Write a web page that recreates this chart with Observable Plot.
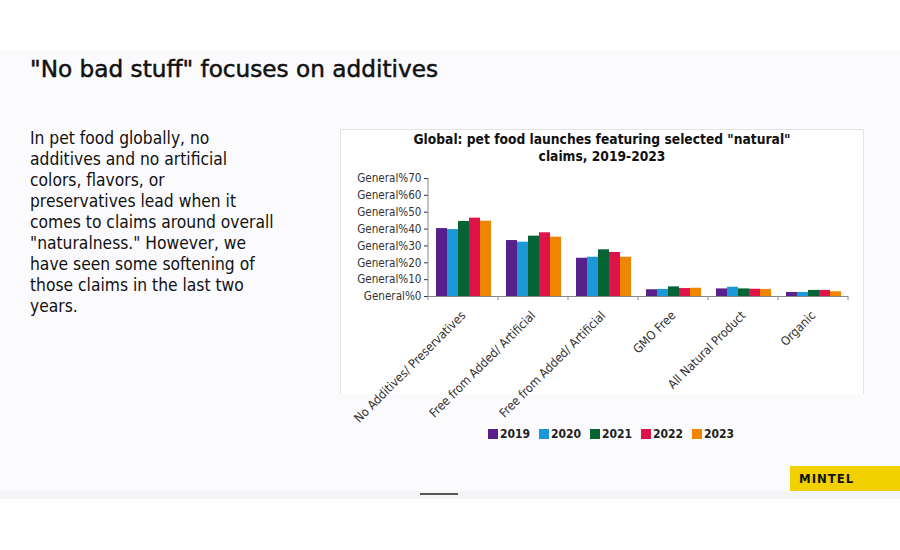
<!DOCTYPE html>
<html><head><meta charset="utf-8">
<script src="https://cdn.jsdelivr.net/npm/d3@7"></script>
<script src="https://cdn.jsdelivr.net/npm/@observablehq/plot@0.6"></script>
<style>
body{margin:0;width:900px;height:550px;background:#fff;position:relative;overflow:hidden;font-family:"DejaVu Sans Condensed","DejaVu Sans",sans-serif;color:#111;}
.abs{position:absolute;}
#slide{left:0;top:50px;width:900px;height:441px;background:#fbfbfe;}
#strip{left:0;top:491px;width:900px;height:8px;background:#f4f5f7;}
#dash{left:420px;top:493px;width:38px;height:2px;background:#555;}
#title{left:30px;top:55px;font-family:"DejaVu Sans",sans-serif;font-size:23.2px;white-space:nowrap;color:#111;-webkit-text-stroke:0.5px #111;}
#body{left:30px;top:128px;font-size:17.3px;line-height:21px;color:#111;}
#panel{left:340px;top:129px;width:522px;height:264px;background:#fff;border:1px solid #e4e4e6;border-bottom:none;}
#ctitle{left:340px;top:131px;width:524px;text-align:center;font-weight:bold;font-size:13.7px;line-height:17px;color:#111;}
#chart{left:340px;top:170px;}
#chart svg{overflow:visible;}
#legend{left:488px;top:427px;display:flex;font-size:12px;font-weight:bold;color:#222;}
#legend .it{display:flex;align-items:center;width:51px;}
#legend .sw{width:10px;height:10px;margin-right:2px;}
#mintel{left:790px;top:466px;width:110px;height:25px;background:#f1d100;}
#mintel span{position:absolute;left:9px;top:5px;font-weight:bold;font-size:13px;letter-spacing:1px;color:#111;}
</style></head><body>
<div id="slide" class="abs"></div>
<div id="strip" class="abs"></div>
<div id="dash" class="abs"></div>
<div id="title" class="abs">"No bad stuff" focuses on additives</div>
<div id="body" class="abs">In pet food globally, no<br>additives and no artificial<br>colors, flavors, or<br>preservatives lead when it<br>comes to claims around overall<br>"naturalness." However, we<br>have seen some softening of<br>those claims in the last two<br>years.</div>
<div id="panel" class="abs"></div>
<div id="ctitle" class="abs">Global: pet food launches featuring selected "natural"<br>claims, 2019-2023</div>
<div id="chart" class="abs"></div>
<div id="legend" class="abs"></div>
<div id="mintel" class="abs"><span>MINTEL</span></div>
<script>
const categories = ["No Additives/ Preservatives","Free from Added/ Artificial","Free from Added/ Artificial ","GMO Free","All Natural Product","Organic"];
const years = ["2019","2020","2021","2022","2023"];
const colors = ["#58208a","#1b98d8","#046433","#e0124a","#ef8500"];
const v2019 = [40.3, 33.2, 22.7, 4.0, 4.5, 2.4];
const v2020 = [39.7, 32.2, 23.3, 4.2, 5.5, 2.4];
const v2021 = [44.5, 35.8, 27.7, 5.7, 4.5, 3.6];
const v2022 = [46.5, 37.8, 26.1, 4.7, 4.3, 3.6];
const v2023 = [44.7, 35.2, 23.3, 4.9, 4.2, 2.8];
const yTicks = [0,10,20,30,40,50,60,70];

const series = [v2019, v2020, v2021, v2022, v2023];
const data = [];
categories.forEach((c, i) => years.forEach((y, j) => data.push({category: c, year: y, value: series[j][i]})));

const plot = Plot.plot({
  width: 523,
  height: 256,
  marginLeft: 88,
  marginRight: 15,
  marginTop: 8,
  marginBottom: 130,
  style: {fontFamily: '"DejaVu Sans Condensed","DejaVu Sans",sans-serif', fontSize: "11.6px", color: "#333", background: "transparent", overflow: "visible"},
  fx: {domain: categories, padding: 0, axis: "bottom", label: null, tickRotate: -45, tickSize: 0, tickPadding: 17, tickFormat: d => d.trim()},
  x: {domain: years, axis: null, paddingInner: 0, paddingOuter: 0.5},
  y: {domain: [0, 70], ticks: yTicks, tickFormat: d => "General%" + d, label: null, tickSize: 4, tickPadding: 3},
  color: {domain: years, range: colors},
  marks: [
    Plot.barY(data, {fx: "category", x: "year", y: "value", fill: "year", inset: 0}),
    Plot.ruleY([0], {stroke: "#888"})
  ]
});
document.getElementById("chart").appendChild(plot);

const svg = d3.select(plot.tagName === "svg" ? plot : plot.querySelector("svg"));
svg.selectAll("[aria-label='fx-axis tick label'] text, [aria-label='fx-axis'] text").style("font-size", "12.3px");

// axis line and group boundary ticks, positioned from the plot's own scales
const fx = plot.scale("fx"), ys = plot.scale("y");
const y0 = ys.apply(0), yTop = ys.apply(70);
const left = fx.apply(categories[0]);
const bounds = categories.map(c => fx.apply(c)).concat([fx.apply(categories[categories.length-1]) + fx.step]);
const g = svg.append("g").attr("stroke", "#888").attr("stroke-width", 1);
g.append("line").attr("x1", left).attr("x2", left).attr("y1", yTop).attr("y2", y0);
bounds.forEach(b => g.append("line").attr("x1", b).attr("x2", b).attr("y1", y0).attr("y2", y0 + 4));

// legend
const lg = d3.select("#legend");
years.forEach((y, i) => {
  const it = lg.append("div").attr("class", "it");
  it.append("div").attr("class", "sw").style("background", colors[i]);
  it.append("span").text(y);
});
</script>
</body></html>
